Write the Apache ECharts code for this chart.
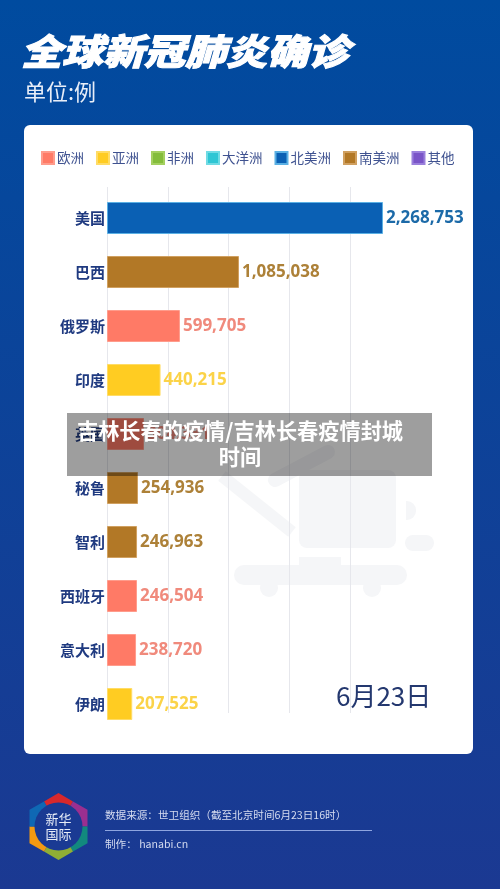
<!DOCTYPE html>
<html><head><meta charset="utf-8">
<style>html,body{margin:0;padding:0;background:#fff}#c{width:500px;height:889px}</style>
<script src="https://cdn.jsdelivr.net/npm/echarts@6/dist/echarts.min.js"></script>
</head><body><div id="c"></div>
<script>
const countries = ['美国','巴西','俄罗斯','印度','英国','秘鲁','智利','西班牙','意大利','伊朗'];
const cases = [2268753,1085038,599705,440215,304331,254936,246963,246504,238720,207525];
const countryContinent = ['北美洲','南美洲','欧洲','亚洲','欧洲','南美洲','南美洲','欧洲','欧洲','亚洲'];
const continents = ['欧洲','亚洲','非洲','大洋洲','北美洲','南美洲','其他'];
const continentColors = ['#ff7a66','#ffcc22','#84bd3b','#2fc6d4','#0a60b4','#b27826','#7a55c8'];
const barBorders = ['#ff9c8c','#ffdc66','#a4d060','#70dbe4','#5ab0e4','#d0a060','#9a80dc'];
const labelColors = ['#f08a7c','#fbd348','#84bd3b','#2fc6d4','#1c6aa8','#ad8138','#7a55c8'];
const titleText = '全球新冠肺炎确诊';
const unitText = '单位:例';
const dateText = '6月23日';
const sourceText = '数据来源：世卫组织（截至北京时间6月23日16时）';
const makerText = '制作： hanabi.cn';
const overlayLines = '吉林长春的疫情/吉林长春疫情封城\n时间';
const logoLines = '新华\n国际';
const xTicks = {min:0, gridMax:2000000, barMax:2500000, interval:500000};

const CJK = '"Noto Sans CJK SC","Noto Sans",sans-serif';
const NAVY = '#1f3a80';
const series = continents.map((c,i)=>({
  name:c, type:'bar', xAxisIndex:0, yAxisIndex:0, barWidth:32, barGap:'-100%',
  itemStyle:{color:continentColors[i], borderColor:barBorders[i], borderWidth:1},
  label:{show:true, position:'right', distance:3, color:labelColors[i],
    fontFamily:'"Noto Sans",sans-serif', fontWeight:'bold', fontSize:17,
    formatter:p=>p.value==null?'':Number(p.value).toLocaleString('en-US')},
  data:cases.map((v,j)=>countryContinent[j]===c?v:null)
}));

const cx=58.5, cy=826.5, R=33.5;
const logoColors=['#d8282c','#9a2f90','#12897e','#8fae35','#f39a12','#0f68b4'];
const logo=logoColors.map((col,i)=>{
  const p=k=>{const a=(-90+60*(i+k))*Math.PI/180; const r=(k===0)?R:R*0.866; return [cx+r*Math.cos(a),cy+r*Math.sin(a)];};
  return {type:'polygon',z:1,shape:{points:[[cx,cy],p(-0.5),p(0),p(0.5)]},style:{fill:col}};
});
const wm='#f5f6f8';
const elements=[
  {type:'rect',z:-10,shape:{x:24,y:125,width:449,height:629,r:6},style:{fill:'#fff'}},
  {type:'line',z:-5,shape:{x1:222,y1:476,x2:292,y2:532},style:{stroke:wm,lineWidth:12}},
  {type:'line',z:-5,shape:{x1:275,y1:480,x2:328,y2:452},style:{stroke:wm,lineWidth:14,lineCap:'round'}},
  {type:'rect',z:-5,shape:{x:299,y:470,width:97,height:78,r:8},style:{fill:wm}},
  {type:'rect',z:-5,shape:{x:299,y:557,width:42,height:10},style:{fill:wm}},
  {type:'rect',z:-5,shape:{x:234,y:565,width:173,height:20,r:10},style:{fill:wm}},
  {type:'circle',z:-5,shape:{cx:269,cy:588,r:9},style:{fill:wm}},
  {type:'circle',z:-5,shape:{cx:372,cy:588,r:9},style:{fill:wm}},
  {type:'rect',z:-5,shape:{x:406,y:501,width:10,height:19,r:[0,9,9,0]},style:{fill:wm}},
  {type:'rect',z:-5,shape:{x:405,y:535,width:29,height:16,r:8},style:{fill:wm}},
  {type:'text',z:5,originX:21,originY:51,scaleY:0.88,style:{text:titleText,x:21,y:51,verticalAlign:'middle',fill:'#fff',stroke:'#fff',lineWidth:1.2,
     font:'italic 900 41px '+CJK}},
  {type:'text',z:5,style:{text:unitText,x:24,y:92,verticalAlign:'middle',fill:'#e8eef8',font:'400 22px '+CJK}},
  {type:'text',z:5,style:{text:dateText,x:336,y:696,verticalAlign:'middle',fill:'#24386f',font:'400 26px '+CJK}},
  {type:'text',z:5,style:{text:sourceText,x:105,y:815,verticalAlign:'middle',fill:'#d5dcf0',font:'400 10.6px '+CJK}},
  {type:'line',z:5,shape:{x1:105,y1:830.5,x2:372,y2:830.5},style:{stroke:'#8ea5e0',lineWidth:1}},
  {type:'text',z:5,style:{text:makerText,x:105,y:844,verticalAlign:'middle',fill:'#d5dcf0',font:'400 10.6px '+CJK}},
  ...logo,
  {type:'circle',z:2,shape:{cx:cx,cy:cy,r:24},style:{fill:'#1a3a93'}},
  {type:'text',z:3,style:{text:logoLines,x:cx,y:cy,align:'center',verticalAlign:'middle',fill:'#e8eef8',lineHeight:15,font:'400 13px '+CJK}},
  {type:'rect',z:100,shape:{x:67,y:413,width:365,height:63},style:{fill:'rgba(0,0,0,0.38)'}},
  {type:'text',z:101,style:{text:overlayLines,x:240,y:444,align:'center',verticalAlign:'middle',fill:'#fff',lineHeight:26,font:'700 21.2px '+CJK}}
];

const chart=echarts.init(document.getElementById('c'),null,{renderer:'canvas'});
chart.setOption({
  animation:false,
  backgroundColor:{type:'linear',x:0,y:0,x2:0,y2:1,colorStops:[{offset:0,color:'#004b9f'},{offset:1,color:'#1b3992'}]},
  legend:{left:41,top:151,padding:0,itemWidth:12,itemHeight:12,itemGap:12,icon:'rect',data:continents,selectedMode:false,
    textStyle:{color:'#3f5290',fontFamily:CJK,fontSize:13.5,padding:[0,0,0,-2]}},
  grid:[
    {left:107,top:191,width:304.1,height:540,containLabel:false},
    {left:107,top:187,width:243.3,height:526,containLabel:false}
  ],
  xAxis:[
    {gridIndex:0,type:'value',min:xTicks.min,max:xTicks.barMax,interval:xTicks.interval,show:false,splitLine:{show:false}},
    {gridIndex:1,type:'value',min:xTicks.min,max:xTicks.gridMax,interval:xTicks.interval,
      axisLabel:{show:false},axisLine:{show:false},axisTick:{show:false},
      splitLine:{show:true,lineStyle:{color:'#e6e7ec',width:1}}}
  ],
  yAxis:[
    {gridIndex:0,type:'category',inverse:true,data:countries,axisLine:{show:false},axisTick:{show:false},
      axisLabel:{color:NAVY,fontFamily:CJK,fontWeight:'bold',fontSize:15,margin:2}},
    {gridIndex:1,type:'category',data:[],show:false}
  ],
  series:series,
  graphic:{elements:elements}
});
</script></body></html>
